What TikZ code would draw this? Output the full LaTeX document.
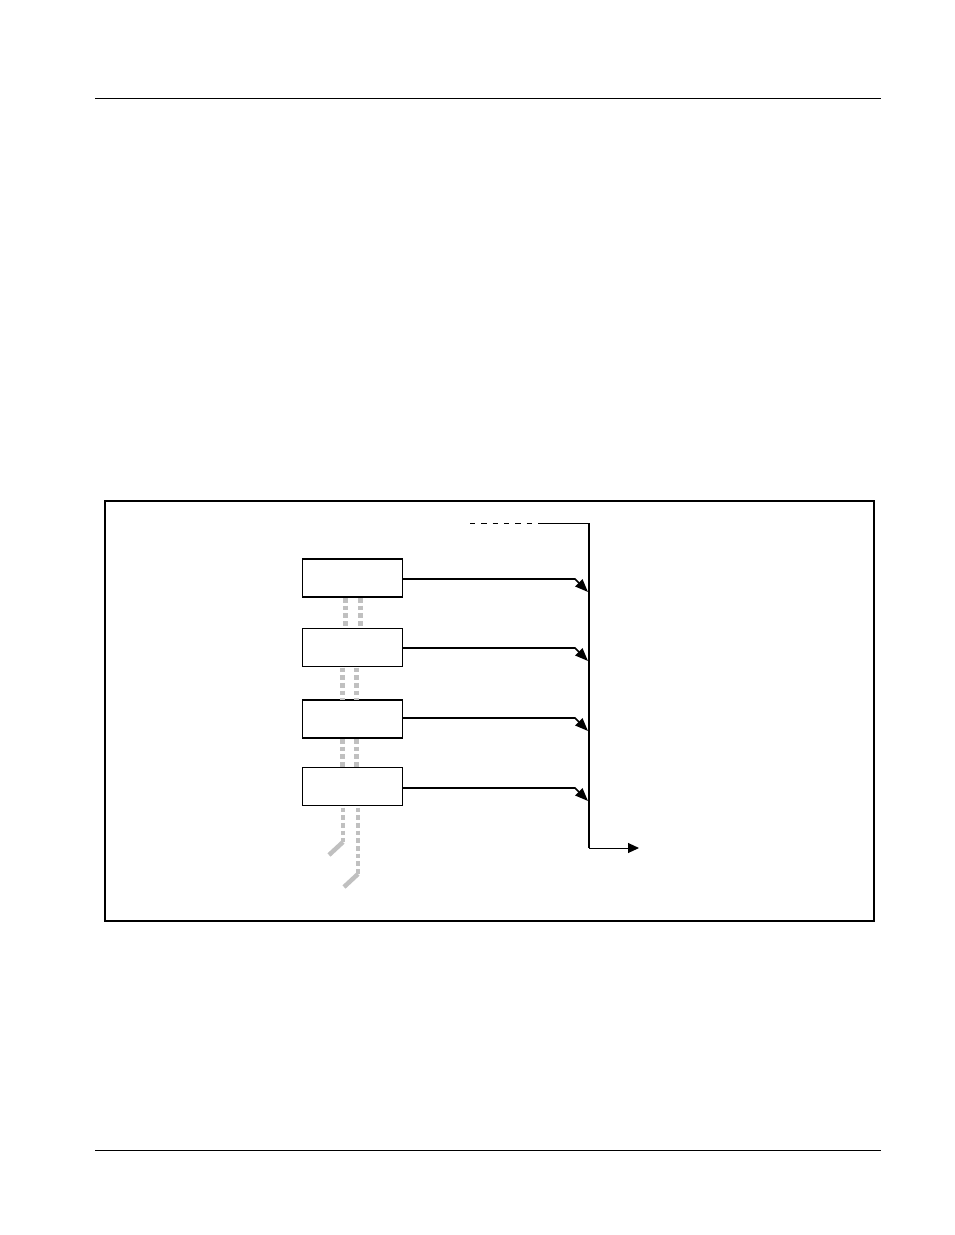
\documentclass[tikz,border=0pt]{standalone}
\usetikzlibrary{arrows.meta}
\begin{document}
\begin{tikzpicture}[x=1pt,y=-1pt,
  blk/.style={draw=black,line width=1.6pt,fill=white,minimum width=100pt,minimum height=38pt,inner sep=0pt,outer sep=0pt},
  sig/.style={line width=1.6pt,-{Triangle[length=13pt,width=10pt]}},
  link/.style={draw={rgb,255:red,192;green,192;blue,192},line width=4.5pt,dash pattern=on 4.7pt off 3pt},
  linkend/.style={draw={rgb,255:red,192;green,192;blue,192},line width=4.5pt}]
\useasboundingbox (0,0) rectangle (954,1235);
% header / footer rules
\draw[line width=1pt] (95,98) -- (881,98);
\draw[line width=1pt] (95,1150) -- (881,1150);
% frame
\draw[line width=1.8pt] (105,501) rectangle (874,921);
% blocks
\node[blk] (b1) at (352.5,578) {};
\node[blk] (b2) at (352.5,647.5) {};
\node[blk] (b3) at (352.5,719) {};
\node[blk] (b4) at (352.5,786.5) {};
% bus
\coordinate (dstart) at (470,523);
\coordinate (dend) at (536,523);
\coordinate (btop) at (589,523);
\coordinate (bbot) at (589,848);
\coordinate (bout) at (639,848);
\draw[line width=1pt,dash pattern=on 5.3pt off 6pt] (dstart) -- (dend);
\draw[line width=1pt] (538,523) -- (btop);
\draw[line width=2.2pt] (btop) -- (bbot);
\draw[line width=1pt,-{Triangle[length=11pt,width=10pt]}] (bbot) -- (bout);
% signals
\coordinate (k1) at (575,579); \coordinate (e1) at (588,592);
\coordinate (k2) at (575,648); \coordinate (e2) at (588,661);
\coordinate (k3) at (575,718); \coordinate (e3) at (588,731);
\coordinate (k4) at (575,788); \coordinate (e4) at (588,801);
\draw[sig] (b1.east |- k1) -- (k1) -- (e1);
\draw[sig] (b2.east |- k2) -- (k2) -- (e2);
\draw[sig] (b3.east |- k3) -- (k3) -- (e3);
\draw[sig] (b4.east |- k4) -- (k4) -- (e4);
% grey links
\draw[link] ([xshift=-7pt,yshift=-1pt]b1.south) -- ([xshift=-7pt]b2.north);
\draw[link] ([xshift=8pt,yshift=-1pt]b1.south) -- ([xshift=8pt]b2.north);
\draw[link] ([xshift=-10pt,yshift=-1pt]b2.south) -- ([xshift=-10pt]b3.north);
\draw[link] ([xshift=4pt,yshift=-1pt]b2.south) -- ([xshift=4pt]b3.north);
\draw[link] ([xshift=-10pt,yshift=-1pt]b3.south) -- ([xshift=-10pt]b4.north);
\draw[link] ([xshift=4pt,yshift=-1pt]b3.south) -- ([xshift=4pt]b4.north);
\coordinate (t1) at (343,842); \coordinate (f1) at (329,855);
\coordinate (t2) at (358,874); \coordinate (f2) at (344,887);
\draw[link] ([xshift=-9.5pt,yshift=-2pt]b4.south) -- (t1);
\draw[linkend] (t1) -- (f1);
\draw[link] ([xshift=5.5pt,yshift=-2pt]b4.south) -- (t2);
\draw[linkend] (t2) -- (f2);
\end{tikzpicture}
\end{document}
